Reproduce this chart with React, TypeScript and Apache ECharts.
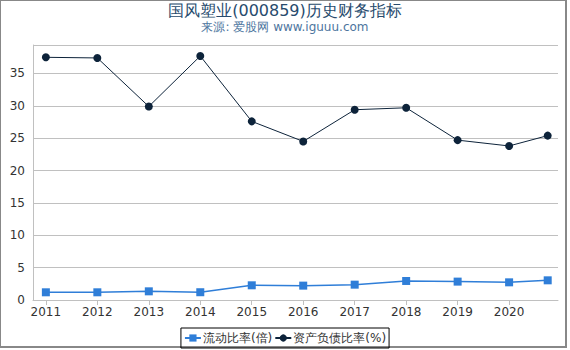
import React, { useEffect, useRef } from "react";
import * as echarts from "echarts";

const titleText = "国风塑业(000859)历史财务指标";
const subtitleText = "来源: 爱股网 www.iguuu.com";
const yearTicks = [2011, 2012, 2013, 2014, 2015, 2016, 2017, 2018, 2019, 2020];
const periods = [2011, 2012, 2013, 2014, 2015, 2016, 2017, 2018, 2019, 2020, 2020.75];
const currentRatio = [1.19, 1.19, 1.34, 1.2, 2.27, 2.22, 2.37, 2.94, 2.84, 2.73, 3.04];
const debtRatio = [37.5, 37.4, 29.9, 37.7, 27.6, 24.5, 29.4, 29.7, 24.7, 23.8, 25.4];
const seriesNames = ["流动比率(倍)", "资产负债比率(%)"];

export default function App() {
  const ref = useRef<HTMLDivElement>(null);
  useEffect(() => {
    if (!ref.current) return;
    const chart = echarts.init(ref.current, undefined, { renderer: "svg" });
    const font = "DejaVu Sans, sans-serif";
    chart.setOption({
      animation: false,
      textStyle: { fontFamily: font },
      title: {
        text: titleText,
        subtext: subtitleText,
        left: "center",
        top: -3,
        itemGap: 3,
        textStyle: { fontSize: 16, fontWeight: "normal", color: "#274b6d", fontFamily: font },
        subtextStyle: { fontSize: 12, color: "#4d759e", fontFamily: font },
      },
      grid: { left: 33, right: 12, top: 45, bottom: 50, containLabel: false },
      legend: {
        bottom: 2,
        left: "center",
        borderColor: "#000",
        borderWidth: 1,
        borderRadius: 0,
        padding: [4, 3, 4, 3],
        itemGap: 2,
        itemWidth: 16,
        itemHeight: 9,
        textStyle: { fontSize: 12, color: "#333", fontFamily: font, padding: [0, 0, 0, -3] },
        data: seriesNames,
      },
      xAxis: {
        type: "value",
        min: 2010.75,
        max: 2020.95,
        splitLine: { show: false },
        axisLine: { show: true, lineStyle: { color: "#c0c0c0" } },
        axisTick: { show: true, length: 5, lineStyle: { color: "#c0c0c0" }, customValues: yearTicks },
        axisLabel: {
          customValues: yearTicks,
          color: "#333",
          fontSize: 12,
          margin: 6,
          formatter: (v: number) => String(Math.round(v)),
        },
      },
      yAxis: {
        type: "value",
        min: 0,
        max: 39.4,
        interval: 5,
        axisLine: { show: true, lineStyle: { color: "#c0c0c0" } },
        axisTick: { show: false },
        splitLine: { lineStyle: { color: "#c0c0c0" } },
        axisLabel: {
          color: "#333",
          fontSize: 12,
          margin: 8,
          showMaxLabel: false,
          formatter: (v: number) => (v % 5 === 0 ? String(v) : ""),
        },
      },
      series: [
        {
          name: seriesNames[0],
          type: "line",
          data: periods.map((p, i) => [p, currentRatio[i]]),
          symbol: "rect",
          symbolSize: 8,
          itemStyle: { color: "#2f7ed8" },
          lineStyle: { color: "#2f7ed8", width: 1.5 },
        },
        {
          name: seriesNames[1],
          type: "line",
          data: periods.map((p, i) => [p, debtRatio[i]]),
          symbol: "circle",
          symbolSize: 8,
          itemStyle: { color: "#0d233a" },
          lineStyle: { color: "#0d233a", width: 1 },
        },
      ],
      graphic: [
        {
          type: "rect",
          shape: { x: 0, y: 0, width: 566, height: 347 },
          style: { fill: "none", stroke: "#888", lineWidth: 2 },
          silent: true,
        },
      ],
    });
    return () => chart.dispose();
  }, []);
  return (
    <div
      ref={ref}
      style={{ position: "absolute", left: 0, top: 0, width: 570, height: 350 }}
    />
  );
}
